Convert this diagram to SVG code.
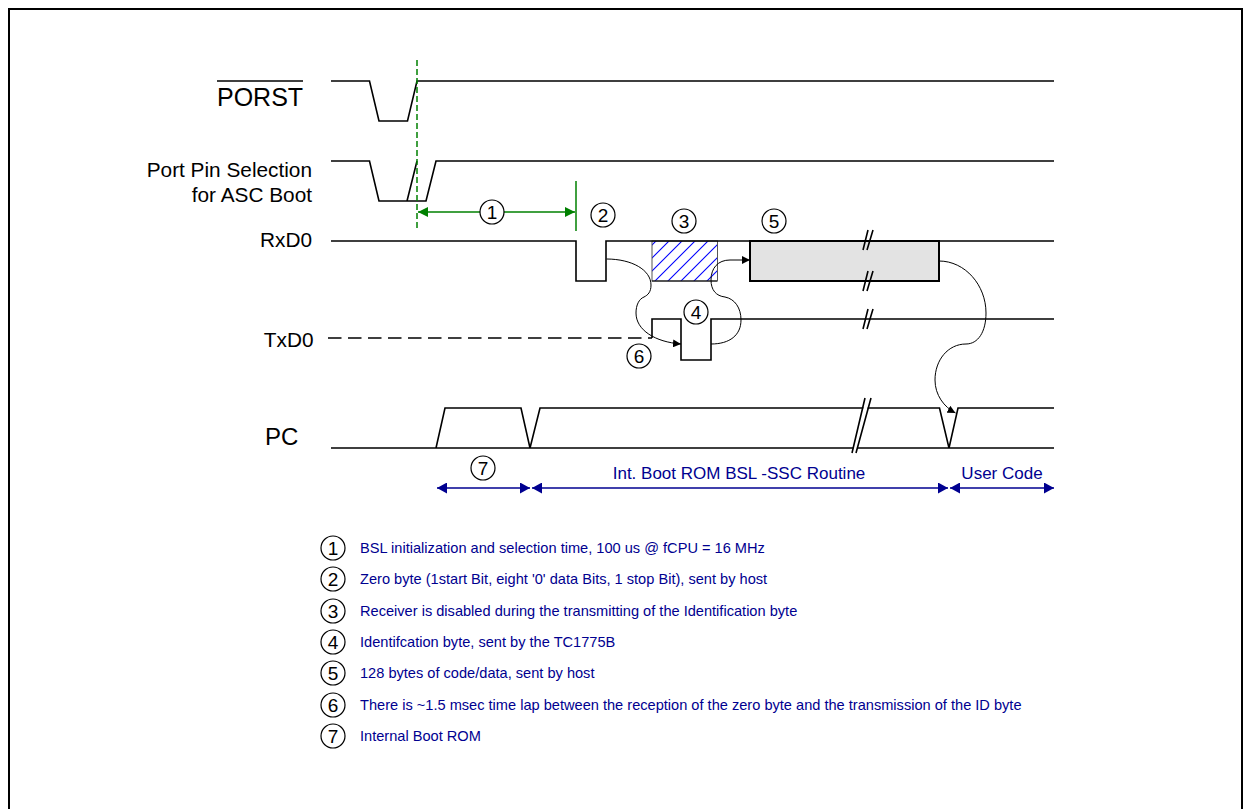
<svg xmlns="http://www.w3.org/2000/svg" width="1244" height="809" viewBox="0 0 1244 809">
<style>
.sig{fill:none;stroke:#000;stroke-width:1.6;stroke-linejoin:miter}
.cur{fill:none;stroke:#000;stroke-width:1}
.gr{stroke:#008000;fill:none;stroke-width:1.5}
.nv{stroke:#000090;fill:none;stroke-width:1.5}
.cir{fill:#fff;stroke:#000;stroke-width:1.2}
.n{font:19px "Liberation Sans",Arial,sans-serif;text-anchor:middle;fill:#000}
.lab{font-family:"Liberation Sans",Arial,sans-serif;font-size:25px;fill:#000}
.sm{font-family:"Liberation Sans",Arial,sans-serif;font-size:20.800px;fill:#000;text-anchor:end}
.bl{font-family:"Liberation Sans",Arial,sans-serif;font-size:14.600px;fill:#000090}
.bl2{font-family:"Liberation Sans",Arial,sans-serif;font-size:17px;fill:#000090;text-anchor:middle}
</style>
<defs>
<pattern id="h" width="13" height="13" patternUnits="userSpaceOnUse"><path d="M-3 16L16 -3M-3 3L3 -3M10 16L16 10" stroke="#0000ff" stroke-width="1.1" fill="none"/></pattern>
<marker id="ga" markerWidth="11" markerHeight="10" refX="10" refY="5" orient="auto-start-reverse" markerUnits="userSpaceOnUse"><path d="M0 0L10 5L0 10z" fill="#008000"/></marker>
<marker id="na" markerWidth="11" markerHeight="11" refX="10" refY="5.500" orient="auto-start-reverse" markerUnits="userSpaceOnUse"><path d="M0 0L10 5.500L0 11z" fill="#000090"/></marker>
<marker id="ka" markerWidth="9" markerHeight="8" refX="8" refY="4" orient="auto" markerUnits="userSpaceOnUse"><path d="M0 0L8 4L0 8z" fill="#000"/></marker>
</defs>
<rect id="frame" x="9" y="9" width="1233" height="820" fill="#fff" stroke="#000" stroke-width="2"/>
<g id="labels">
<text class="lab" x="217" y="106">PORST</text>
<path d="M217 81H303" stroke="#000" stroke-width="1.5" fill="none"/>
<text class="sm" x="312" y="177">Port Pin Selection</text>
<text class="sm" x="312" y="202">for ASC Boot</text>
<text class="sm" x="312" y="247">RxD0</text>
<text class="sm" x="313.500" y="347">TxD0</text>
<text class="lab" x="265" y="445" style="font-size:24px">PC</text>
</g>
<g id="signal-porst"><path class="sig" d="M331 81H369.500L379 121H407.500L417 81H1054"/></g>
<g id="signal-port"><path class="sig" d="M331 161H369.500L379 201H426L436 161H1054M407 201L417 161"/></g>
<g id="signal-rxd">
<rect x="652" y="241" width="65.500" height="40" fill="url(#h)" stroke="#555" stroke-width="1"/>
<path d="M652 281H717" stroke="#000" stroke-width="1.2"/>
<rect x="750" y="241" width="189" height="40" fill="#e3e3e3" stroke="#000" stroke-width="2"/>
<path class="sig" d="M331 241H576V281H606V241H1054"/>
</g>
<g id="signal-txd">
<path class="sig" d="M328 338H652" stroke-dasharray="13.500 6.500"/>
<path class="sig" d="M652 338V319H681V360H711V319H1054"/>
</g>
<g id="signal-pc"><path class="sig" d="M331 448H1054M436 448L445 408H521L530 448L540 408H939.500L949 448L958 408H1054"/></g>
<g id="connectors">
<path class="gr" d="M417 60V231" stroke-dasharray="6 3"/>
<path class="gr" d="M576 181V231"/>
<path class="gr" d="M418 212H575" marker-start="url(#ga)" marker-end="url(#ga)"/>
<path class="cur" d="M606.500 259C632 259 651 270 651 285C651 292 648 295 644 297C639 299 636 305 636 313C636 330 655 342 681 344" marker-end="url(#ka)"/>
<path class="cur" d="M711 344C730 344 741 335 741 320C741 308 735 299 725 297C716 296 711 290 711 280C711 268 718 260 730 260H750" marker-end="url(#ka)"/>
<path class="cur" d="M939 261C965 261 986 285 986 313C986 332 978 344 966 344C948 344 935 360 935 380C935 395 944 407 955.500 413" marker-end="url(#ka)"/>
<path class="nv" d="M437 488H530" marker-start="url(#na)" marker-end="url(#na)"/>
<path class="nv" d="M532 488H948" marker-start="url(#na)" marker-end="url(#na)"/>
<path class="nv" d="M950 488H1054" marker-start="url(#na)" marker-end="url(#na)"/>
<g class="cur" stroke="#000">
<path class="sig" stroke-width="1" d="M863 250L868 230M867 250L873 230M863 291L868 271M867 291L873 271M863 329L868 309M867 329L873 309"/>
<path d="M854 453L868 398" stroke="#fff" stroke-width="4"/>
<path class="sig" d="M852 453L865 398M856 453L871 398"/>
</g>
</g>
<g id="markers">
<g id="m1"><circle class="cir" cx="492" cy="212" r="12"/><text class="n" x="492" y="219">1</text></g>
<g id="m2"><circle class="cir" cx="603" cy="215" r="12"/><text class="n" x="603" y="222">2</text></g>
<g id="m3"><circle class="cir" cx="684" cy="221" r="12"/><text class="n" x="684" y="228">3</text></g>
<g id="m4"><circle class="cir" cx="696" cy="312" r="12"/><text class="n" x="696" y="319">4</text></g>
<g id="m5"><circle class="cir" cx="774" cy="221" r="12"/><text class="n" x="774" y="228">5</text></g>
<g id="m6"><circle class="cir" cx="639" cy="356" r="12"/><text class="n" x="639" y="363">6</text></g>
<g id="m7"><circle class="cir" cx="483" cy="468" r="12"/><text class="n" x="483" y="475">7</text></g>
</g>
<g id="band-labels">
<text class="bl2" x="739" y="479">Int. Boot ROM BSL -SSC Routine</text>
<text class="bl2" x="1002" y="479">User Code</text>
</g>
<g id="legend">
<g><circle class="cir" cx="333" cy="548" r="12"/><text class="n" x="333" y="555">1</text><text class="bl" x="360" y="553">BSL initialization and selection time, 100 us @ fCPU = 16 MHz</text></g>
<g><circle class="cir" cx="333" cy="579" r="12"/><text class="n" x="333" y="586">2</text><text class="bl" x="360" y="584">Zero byte (1start Bit, eight '0' data Bits, 1 stop Bit), sent by host</text></g>
<g><circle class="cir" cx="333" cy="611" r="12"/><text class="n" x="333" y="618">3</text><text class="bl" x="360" y="616">Receiver is disabled during the transmitting of the Identification byte</text></g>
<g><circle class="cir" cx="333" cy="642" r="12"/><text class="n" x="333" y="649">4</text><text class="bl" x="360" y="647">Identifcation byte, sent by the TC1775B</text></g>
<g><circle class="cir" cx="333" cy="673" r="12"/><text class="n" x="333" y="680">5</text><text class="bl" x="360" y="678">128 bytes of code/data, sent by host</text></g>
<g><circle class="cir" cx="333" cy="705" r="12"/><text class="n" x="333" y="712">6</text><text class="bl" x="360" y="710">There is ~1.5 msec time lap between the reception of the zero byte and the transmission of the ID byte</text></g>
<g><circle class="cir" cx="333" cy="736" r="12"/><text class="n" x="333" y="743">7</text><text class="bl" x="360" y="741">Internal Boot ROM</text></g>
</g>
</svg>
